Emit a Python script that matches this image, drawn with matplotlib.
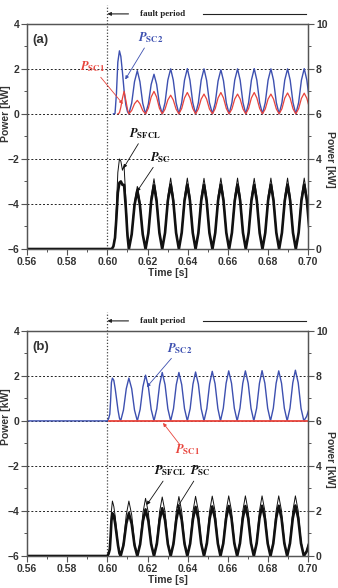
import numpy as np
import matplotlib
matplotlib.use('Agg')
import matplotlib.pyplot as plt
from matplotlib.ticker import MultipleLocator, FormatStrFormatter

nan = np.nan

# ---- panel (a) ----
t_a = [0.5600, 0.6000, 0.6022, 0.6030, 0.6038, 0.6045, 0.6052, 0.6060, 0.6067, 0.6075, 0.6083, 0.6092, 0.6100,
       0.6107, 0.6121, 0.6135, 0.6149, 0.6162, 0.6176,
       0.6190, 0.6204, 0.6218, 0.6232, 0.6245, 0.6259,
       0.6273, 0.6287, 0.6301, 0.6315, 0.6328, 0.6342,
       0.6356, 0.6370, 0.6384, 0.6398, 0.6411, 0.6425,
       0.6439, 0.6453, 0.6467, 0.6481, 0.6494, 0.6508,
       0.6523, 0.6537, 0.6551, 0.6565, 0.6578, 0.6592,
       0.6606, 0.6620, 0.6634, 0.6648, 0.6661, 0.6675,
       0.6689, 0.6703, 0.6717, 0.6731, 0.6744, 0.6758,
       0.6772, 0.6786, 0.6800, 0.6814, 0.6827, 0.6841,
       0.6855, 0.6869, 0.6883, 0.6897, 0.6910, 0.6924,
       0.6938, 0.6952, 0.6966, 0.6980, 0.6993, 0.7007]

psc2_a = [nan, nan, nan, 0.0, 0.02, 0.9, 2.3, 2.8, 2.55, 1.85, 1.05, 0.4, 0.1,
          0.0, 0.48, 1.43, 1.92, 1.43, 0.47,
          0.0, 0.44, 1.31, 1.76, 1.32, 0.44,
          0.0, 0.50, 1.50, 2.00, 1.50, 0.50,
          0.0, 0.50, 1.50, 2.01, 1.50, 0.50,
          0.0, 0.50, 1.50, 2.00, 1.49, 0.50,
          0.0, 0.49, 1.46, 1.96, 1.47, 0.49,
          0.0, 0.50, 1.50, 2.00, 1.50, 0.50,
          0.0, 0.50, 1.50, 2.01, 1.50, 0.50,
          0.0, 0.50, 1.50, 2.00, 1.50, 0.50,
          0.0, 0.50, 1.50, 2.00, 1.50, 0.50,
          0.0, 0.50, 1.50, 2.01, 1.50, 0.50]

psc1_a = [nan, nan, nan, nan, nan, nan, 0.0, 0.05, 0.3, 0.7, 1.0, 0.6, 0.2,
          0.0, 0.15, 0.45, 0.60, 0.45, 0.15,
          0.0, 0.25, 0.75, 1.00, 0.75, 0.25,
          0.0, 0.21, 0.62, 0.83, 0.62, 0.21,
          0.0, 0.24, 0.71, 0.95, 0.71, 0.24,
          0.0, 0.22, 0.66, 0.88, 0.66, 0.22,
          0.0, 0.24, 0.71, 0.95, 0.71, 0.24,
          0.0, 0.22, 0.66, 0.88, 0.66, 0.22,
          0.0, 0.24, 0.71, 0.95, 0.71, 0.24,
          0.0, 0.22, 0.66, 0.88, 0.66, 0.22,
          0.0, 0.23, 0.70, 0.93, 0.70, 0.23,
          0.0, 0.23, 0.69, 0.92, 0.69, 0.23]

psfcl_a = [0.0, 0.0, 0.0, 0.15, 0.6, 1.9, 3.4, 4.0, 3.9, 3.5, 3.7, 2.2, 0.8,
           0.0, 0.70, 2.09, 2.78, 2.09, 0.70,
           0.0, 0.78, 2.34, 3.12, 2.34, 0.78,
           0.0, 0.79, 2.36, 3.15, 2.36, 0.79,
           0.0, 0.79, 2.36, 3.15, 2.36, 0.79,
           0.0, 0.79, 2.36, 3.14, 2.35, 0.78,
           0.0, 0.79, 2.36, 3.15, 2.36, 0.79,
           0.0, 0.79, 2.36, 3.15, 2.36, 0.79,
           0.0, 0.79, 2.36, 3.14, 2.35, 0.78,
           0.0, 0.79, 2.36, 3.15, 2.36, 0.79,
           0.0, 0.79, 2.36, 3.15, 2.36, 0.79,
           0.0, 0.79, 2.36, 3.15, 2.36, 0.79]

psc_a = [0.0, 0.0, 0.0, 0.12, 0.5, 1.4, 2.5, 2.95, 3.0, 2.85, 2.85, 1.8, 0.6,
         0.0, 0.65, 1.95, 2.60, 1.95, 0.65,
         0.0, 0.71, 2.12, 2.83, 2.12, 0.71,
         0.0, 0.72, 2.15, 2.86, 2.15, 0.72,
         0.0, 0.72, 2.15, 2.86, 2.15, 0.72,
         0.0, 0.71, 2.14, 2.85, 2.14, 0.71,
         0.0, 0.72, 2.15, 2.86, 2.15, 0.72,
         0.0, 0.72, 2.15, 2.86, 2.15, 0.72,
         0.0, 0.71, 2.14, 2.85, 2.14, 0.71,
         0.0, 0.72, 2.15, 2.86, 2.15, 0.72,
         0.0, 0.72, 2.15, 2.86, 2.15, 0.72,
         0.0, 0.72, 2.15, 2.86, 2.15, 0.72]

# ---- panel (b) ----
t_b = [0.5600, 0.6000, 0.6006, 0.6012, 0.6016, 0.6020, 0.6025, 0.6032, 0.6039, 0.6046, 0.6053, 0.6060,
       0.6066, 0.6080, 0.6094, 0.6107, 0.6121, 0.6135,
       0.6149, 0.6163, 0.6177, 0.6190, 0.6204, 0.6218,
       0.6232, 0.6246, 0.6260, 0.6273, 0.6287, 0.6301,
       0.6315, 0.6329, 0.6343, 0.6356, 0.6370, 0.6384,
       0.6398, 0.6412, 0.6426, 0.6439, 0.6453, 0.6467,
       0.6481, 0.6495, 0.6509, 0.6522, 0.6536, 0.6550,
       0.6563, 0.6577, 0.6591, 0.6604, 0.6618, 0.6632,
       0.6646, 0.6660, 0.6674, 0.6687, 0.6701, 0.6715,
       0.6729, 0.6743, 0.6757, 0.6770, 0.6784, 0.6798,
       0.6812, 0.6826, 0.6840, 0.6853, 0.6867, 0.6881,
       0.6895, 0.6909, 0.6923, 0.6936, 0.6950, 0.6964,
       0.6978, 0.6992, 0.7006]

psc2_b = [0.0, 0.0, 0.1, 0.3, 0.9, 1.7, 1.9, 1.8, 1.42, 0.95, 0.47, 0.12,
          0.0, 0.48, 1.43, 1.90, 1.43, 0.48,
          0.0, 0.51, 1.52, 2.03, 1.52, 0.51,
          0.0, 0.54, 1.61, 2.15, 1.61, 0.54,
          0.0, 0.54, 1.61, 2.15, 1.61, 0.54,
          0.0, 0.54, 1.63, 2.17, 1.63, 0.54,
          0.0, 0.55, 1.65, 2.20, 1.65, 0.55,
          0.0, 0.56, 1.67, 2.22, 1.67, 0.56,
          0.0, 0.56, 1.67, 2.22, 1.67, 0.56,
          0.0, 0.56, 1.67, 2.23, 1.67, 0.56,
          0.0, 0.56, 1.67, 2.22, 1.67, 0.56,
          0.0, 0.56, 1.69, 2.25, 1.69, 0.56,
          0.0, 0.2, 0.6]

t_sc1_b = [0.6010, 0.7000]
psc1_b = [0.0, 0.0]

psfcl_b = [0.0, 0.0, 0.1, 0.3, 1.0, 2.0, 2.44, 2.2, 1.75, 1.15, 0.55, 0.15,
           0.0, 0.61, 1.83, 2.44, 1.83, 0.61,
           0.0, 0.64, 1.92, 2.56, 1.92, 0.64,
           0.0, 0.66, 1.97, 2.62, 1.97, 0.66,
           0.0, 0.66, 1.98, 2.64, 1.98, 0.66,
           0.0, 0.66, 1.99, 2.65, 1.99, 0.66,
           0.0, 0.67, 2.00, 2.66, 2.00, 0.67,
           0.0, 0.67, 2.00, 2.67, 2.00, 0.67,
           0.0, 0.67, 2.00, 2.67, 2.00, 0.67,
           0.0, 0.67, 2.00, 2.67, 2.00, 0.67,
           0.0, 0.67, 2.00, 2.67, 2.00, 0.67,
           0.0, 0.67, 2.00, 2.67, 2.00, 0.67,
           0.0, 0.25, 0.7]

psc_b = [0.0, 0.0, 0.1, 0.3, 0.85, 1.55, 1.9, 1.8, 1.42, 0.95, 0.47, 0.12,
         0.0, 0.48, 1.43, 1.90, 1.43, 0.48,
         0.0, 0.52, 1.55, 2.07, 1.55, 0.52,
         0.0, 0.53, 1.59, 2.12, 1.59, 0.53,
         0.0, 0.54, 1.61, 2.15, 1.61, 0.54,
         0.0, 0.55, 1.64, 2.18, 1.64, 0.55,
         0.0, 0.55, 1.65, 2.20, 1.65, 0.55,
         0.0, 0.56, 1.67, 2.22, 1.67, 0.56,
         0.0, 0.56, 1.67, 2.22, 1.67, 0.56,
         0.0, 0.56, 1.67, 2.23, 1.67, 0.56,
         0.0, 0.56, 1.67, 2.23, 1.67, 0.56,
         0.0, 0.56, 1.68, 2.24, 1.68, 0.56,
         0.0, 0.2, 0.6]

fault_t = 0.60
x_ticks = [0.56, 0.58, 0.60, 0.62, 0.64, 0.66, 0.68, 0.70]

BLUE = '#3d50b0'
RED = '#e8443c'
GRAY = '#333333'

plt.rcParams['font.family'] = ['Liberation Sans', 'DejaVu Sans']
plt.rcParams['font.weight'] = 'bold'
plt.rcParams['mathtext.fontset'] = 'stix'

fig = plt.figure(figsize=(3.38, 5.88), dpi=100)
ax_a = fig.add_axes([0.080, 0.5765, 0.832, 0.383])
ax_b = fig.add_axes([0.080, 0.0544, 0.832, 0.383])


def setup(ax, letter, ly_left, ly_right):
    ax.set_xlim(0.56, 0.70)
    ax.set_ylim(-6, 4)
    ax.set_xticks(x_ticks)
    ax.xaxis.set_minor_locator(MultipleLocator(0.01))
    ax.xaxis.set_major_formatter(FormatStrFormatter('%.2f'))
    ax.yaxis.set_major_locator(MultipleLocator(2))
    ax.yaxis.set_minor_locator(MultipleLocator(1))
    ax.grid(True, axis='y', which='major', ls=(0, (2, 2)), color='#222222', lw=0.7)
    ax.tick_params(which='major', length=4, width=0.8, labelsize=7.5, pad=1.5,
                   color='#555555', labelcolor=GRAY)
    ax.tick_params(which='minor', length=2, width=0.7, color='#555555')
    for s in ax.spines.values():
        s.set_color('#555555')
        s.set_linewidth(0.9)
    ax.set_xlabel('Time [s]', fontsize=7.5, fontweight='bold', color=GRAY, labelpad=1)
    ax.set_ylabel('Power [kW]', fontsize=7.5, fontweight='bold', color=GRAY, va='center')
    ax.yaxis.set_label_coords(-0.074, ly_left)
    ax.text(0.018, 0.955, letter, transform=ax.transAxes, fontsize=9.5,
            fontweight='bold', color=GRAY, va='top', ha='left')

    ax2 = ax.twinx()
    ax2.set_ylim(0, 10)
    ax2.yaxis.set_major_locator(MultipleLocator(2))
    ax2.yaxis.set_minor_locator(MultipleLocator(1))
    ax2.tick_params(which='major', length=4, width=0.8, labelsize=7.5, pad=1.5,
                    color='#555555', labelcolor=GRAY)
    ax2.tick_params(which='minor', length=2, width=0.7, color='#555555')
    for s in ax2.spines.values():
        s.set_color('#555555')
        s.set_linewidth(0.9)
    ax2.set_ylabel('Power [kW]', fontsize=7.5, fontweight='bold', color=GRAY,
                   rotation=270, va='center')
    ax2.yaxis.set_label_coords(1.077, ly_right)

    # fault marker and "fault period" strip above the axes
    xt = ax.get_xaxis_transform()
    ax.plot([fault_t, fault_t], [0, 1.085], transform=xt, ls=(0, (1, 1.5)),
            color='#444444', lw=0.9, clip_on=False)
    ax.annotate('', xy=(fault_t, 1.044), xytext=(0.6105, 1.044), xycoords=xt,
                arrowprops=dict(arrowstyle='-|>', color='#222222', lw=0.8,
                                mutation_scale=5, shrinkA=0, shrinkB=0))
    ax.text(0.6273, 1.044, 'fault period', transform=xt, ha='center', va='center',
            fontsize=6.5, fontweight='bold', family='Liberation Serif', color='#222222')
    ax.plot([0.6477, 0.699], [1.044, 1.044], transform=xt, color='#222222',
            lw=0.8, clip_on=False)
    return ax2


def label(ax, text, xy, xytext, color):
    ax.annotate(text, xy=xy, xytext=xytext, color=color, fontsize=9,
                ha='center', va='bottom',
                arrowprops=dict(arrowstyle='-|>', color=color, lw=0.6,
                                mutation_scale=5, shrinkA=0, shrinkB=0))


# panel (a)
ax2_a = setup(ax_a, '(a)', 0.60, 0.40)
ax_a.plot(t_a, psc2_a, color=BLUE, lw=1.0)
ax_a.plot(t_a, psc1_a, color=RED, lw=0.9)
ax2_a.plot(t_a, psfcl_a, color='#111111', lw=0.7)
ax2_a.plot(t_a, psc_a, color='#111111', lw=1.9)

label(ax_a, r'$P_{\mathrm{SC2}}$', (0.6089, 1.53), (0.6215, 3.05), BLUE)
label(ax_a, r'$P_{\mathrm{SC1}}$', (0.6077, 0.44), (0.5925, 1.75), RED)
label(ax2_a, r'$P_{\mathrm{SFCL}}$', (0.6080, 3.59), (0.6185, 4.8), '#111111')
label(ax2_a, r'$P_{\mathrm{SC}}$', (0.6147, 2.55), (0.6262, 3.75), '#111111')

# panel (b)
ax2_b = setup(ax_b, '(b)', 0.62, 0.43)
ax_b.plot(t_b, psc2_b, color=BLUE, lw=1.0)
ax_b.plot(t_sc1_b, psc1_b, color=RED, lw=1.3)
ax2_b.plot(t_b, psfcl_b, color='#111111', lw=0.7)
ax2_b.plot(t_b, psc_b, color='#111111', lw=1.9)

label(ax_b, r'$P_{\mathrm{SC2}}$', (0.6196, 1.5), (0.6362, 2.9), BLUE)
ax_b.annotate('', xy=(0.6277, -0.09), xytext=(0.6361, -1.06),
              arrowprops=dict(arrowstyle='-|>', color=RED, lw=0.6,
                              mutation_scale=5, shrinkA=0, shrinkB=0))
ax_b.text(0.6397, -1.28, r'$P_{\mathrm{SC1}}$', color=RED, fontsize=9,
          ha='center', va='center')
label(ax2_b, r'$P_{\mathrm{SFCL}}$', (0.6196, 2.27), (0.6312, 3.45), '#111111')
label(ax2_b, r'$P_{\mathrm{SC}}$', (0.6345, 2.12), (0.6462, 3.45), '#111111')

fig.savefig('out.png', dpi=100)
